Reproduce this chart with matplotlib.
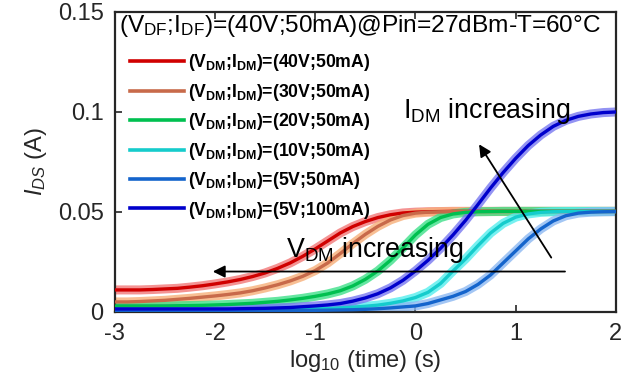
import numpy as np
import matplotlib
matplotlib.use('Agg')
import matplotlib.pyplot as plt
from matplotlib.lines import Line2D

plt.rcParams['font.family'] = ['Liberation Sans', 'DejaVu Sans']
plt.rcParams['mathtext.fontset'] = 'custom'
plt.rcParams['mathtext.rm'] = 'Liberation Sans'
plt.rcParams['mathtext.it'] = 'Liberation Sans:italic'
plt.rcParams['mathtext.bf'] = 'Liberation Sans:bold'
plt.rcParams['mathtext.default'] = 'regular'

# log10(time) grid the curves were read on
log_t = [-3, -2.875, -2.75, -2.625, -2.5, -2.375, -2.25, -2.125, -2, -1.875, -1.75,
         -1.625, -1.5, -1.375, -1.25, -1.125, -1, -0.875, -0.75, -0.625, -0.5,
         -0.375, -0.25, -0.125, 0, 0.125, 0.25, 0.375, 0.5, 0.625, 0.75,
         0.875, 1, 1.125, 1.25, 1.375, 1.5, 1.625, 1.75, 1.875, 2]

ids_40v_50ma = [0.011, 0.011, 0.011, 0.0112, 0.0115, 0.0118, 0.0124, 0.0131, 0.014, 0.015, 0.0162,
                0.0177, 0.0195, 0.0218, 0.0245, 0.0278, 0.0315, 0.0355, 0.0395, 0.0427, 0.0452,
                0.0472, 0.0486, 0.0495, 0.0499, 0.0501, 0.0502] + [0.0503] * 14
ids_30v_50ma = [0.005, 0.005, 0.0052, 0.0055, 0.0058, 0.0063, 0.0068, 0.0074, 0.008, 0.0087, 0.0095,
                0.0106, 0.012, 0.0136, 0.0155, 0.0178, 0.0207, 0.0245, 0.0292, 0.0342, 0.0388,
                0.0428, 0.046, 0.0482, 0.0494, 0.0499, 0.0501] + [0.0502] * 14
ids_20v_50ma = [0.003, 0.003, 0.003, 0.003, 0.003, 0.0031, 0.0032, 0.0033, 0.0035, 0.0037, 0.004,
                0.0043, 0.0048, 0.0053, 0.006, 0.0068, 0.0078, 0.009, 0.0106, 0.013, 0.0163,
                0.0205, 0.0258, 0.032, 0.0385, 0.0438, 0.0472, 0.049, 0.0498, 0.0501, 0.0502] + [0.0503] * 10
ids_10v_50ma = [0.0012] * 14 + [0.0013, 0.0014, 0.0015, 0.0017, 0.002, 0.0024, 0.0028,
                0.0034, 0.0043, 0.0055, 0.0072, 0.0098, 0.0142, 0.0205, 0.0265, 0.0332, 0.0395,
                0.0443, 0.0474, 0.049, 0.0498, 0.0501] + [0.0502] * 5
ids_5v_50ma = [0.0008] * 17 + [0.0009, 0.001, 0.0011, 0.0013, 0.0016, 0.002, 0.0025, 0.003,
               0.0042, 0.006, 0.0078, 0.0102, 0.0138, 0.0185, 0.0245, 0.0305, 0.0365, 0.0415,
               0.0455, 0.0481, 0.0494, 0.0499, 0.0501, 0.0502]
ids_5v_100ma = [0.0015] * 9 + [0.0015, 0.0016, 0.0017, 0.0018, 0.002, 0.0022, 0.0026, 0.003,
                0.0035, 0.0042, 0.0054, 0.007, 0.0091, 0.012, 0.0158, 0.0205, 0.0258, 0.0318,
                0.0385, 0.0458, 0.0538, 0.062, 0.0697, 0.0768, 0.0832, 0.0885, 0.0928, 0.0958,
                0.0978, 0.099, 0.0997, 0.100]

series = [ids_40v_50ma, ids_30v_50ma, ids_20v_50ma, ids_10v_50ma, ids_5v_50ma, ids_5v_100ma]
labels = ['(V$_{DM}$;I$_{DM}$)=(40V;50mA)', '(V$_{DM}$;I$_{DM}$)=(30V;50mA)',
          '(V$_{DM}$;I$_{DM}$)=(20V;50mA)', '(V$_{DM}$;I$_{DM}$)=(10V;50mA)',
          '(V$_{DM}$;I$_{DM}$)=(5V;50mA)', '(V$_{DM}$;I$_{DM}$)=(5V;100mA)']
band_colors = ['#f27878', '#f7b07a', '#3fe08a', '#55eeee', '#8cb8f2', '#7878f0']
line_colors = ['#d00000', '#c86a4a', '#00c050', '#15cccc', '#1464cc', '#0000cc']

fig = plt.figure(figsize=(6.24, 3.87), dpi=100)
ax = fig.add_axes([0.184, 0.194, 0.803, 0.775])

handles = []
for ids, lab, bc, lc in zip(series, labels, band_colors, line_colors):
    ax.plot(log_t, ids, color=bc, lw=6.5, alpha=0.8, solid_capstyle='round', zorder=2)
    ax.plot(log_t, ids, color=lc, lw=2.4, zorder=3)
    handles.append(Line2D([], [], color=lc, lw=2.6, label=lab))

ax.set_xlim(-3, 2)
ax.set_ylim(0, 0.15)
ax.set_xticks([-3, -2, -1, 0, 1, 2])
ax.set_xticklabels(['-3', '-2', '-1', '0', '1', '2'])
ax.set_yticks([0, 0.05, 0.1, 0.15])
ax.set_yticklabels(['0', '0.05', '0.1', '0.15'])
ax.tick_params(direction='in', length=5, width=1.2, labelsize=17, colors='#262626',
               top=True, right=True, pad=8)
for sp in ax.spines.values():
    sp.set_linewidth(1.6)
    sp.set_color('#262626')

ax.set_xlabel('log$_{10}$ (time) (s)', fontsize=17, color='#262626', labelpad=2)
ax.set_ylabel('$\\mathit{I_{DS}}$ (A)', fontsize=17, color='#262626', labelpad=6)

ax.text(0.008, 0.997, '(V$_{DF}$;I$_{DF}$)=(40V;50mA)@Pin=27dBm-T=60\u00b0C',
        transform=ax.transAxes, ha='left', va='top', fontsize=17.6, color='black')

leg = ax.legend(handles=handles, loc='upper left', bbox_to_anchor=(0.012, 0.895),
                frameon=False, borderpad=0, handlelength=3.1, handletextpad=0.2,
                labelspacing=0.48, prop={'size': 12.7, 'weight': 'bold'})

# annotation arrows
ax.annotate('', xy=(-2.05, 0.0202), xytext=(1.52, 0.0202),
            arrowprops=dict(arrowstyle='-|>', color='black', lw=1.3, mutation_scale=18))
ax.annotate('', xy=(0.62, 0.085), xytext=(1.37, 0.026),
            arrowprops=dict(arrowstyle='-|>', color='black', lw=1.3, mutation_scale=18))
ax.text(-1.29, 0.0275, 'V$_{DM}$ increasing', fontsize=19.3, ha='left', va='baseline')
ax.text(-0.12, 0.097, 'I$_{DM}$ increasing', fontsize=19.3, ha='left', va='baseline')

fig.savefig('out.png', dpi=100)
